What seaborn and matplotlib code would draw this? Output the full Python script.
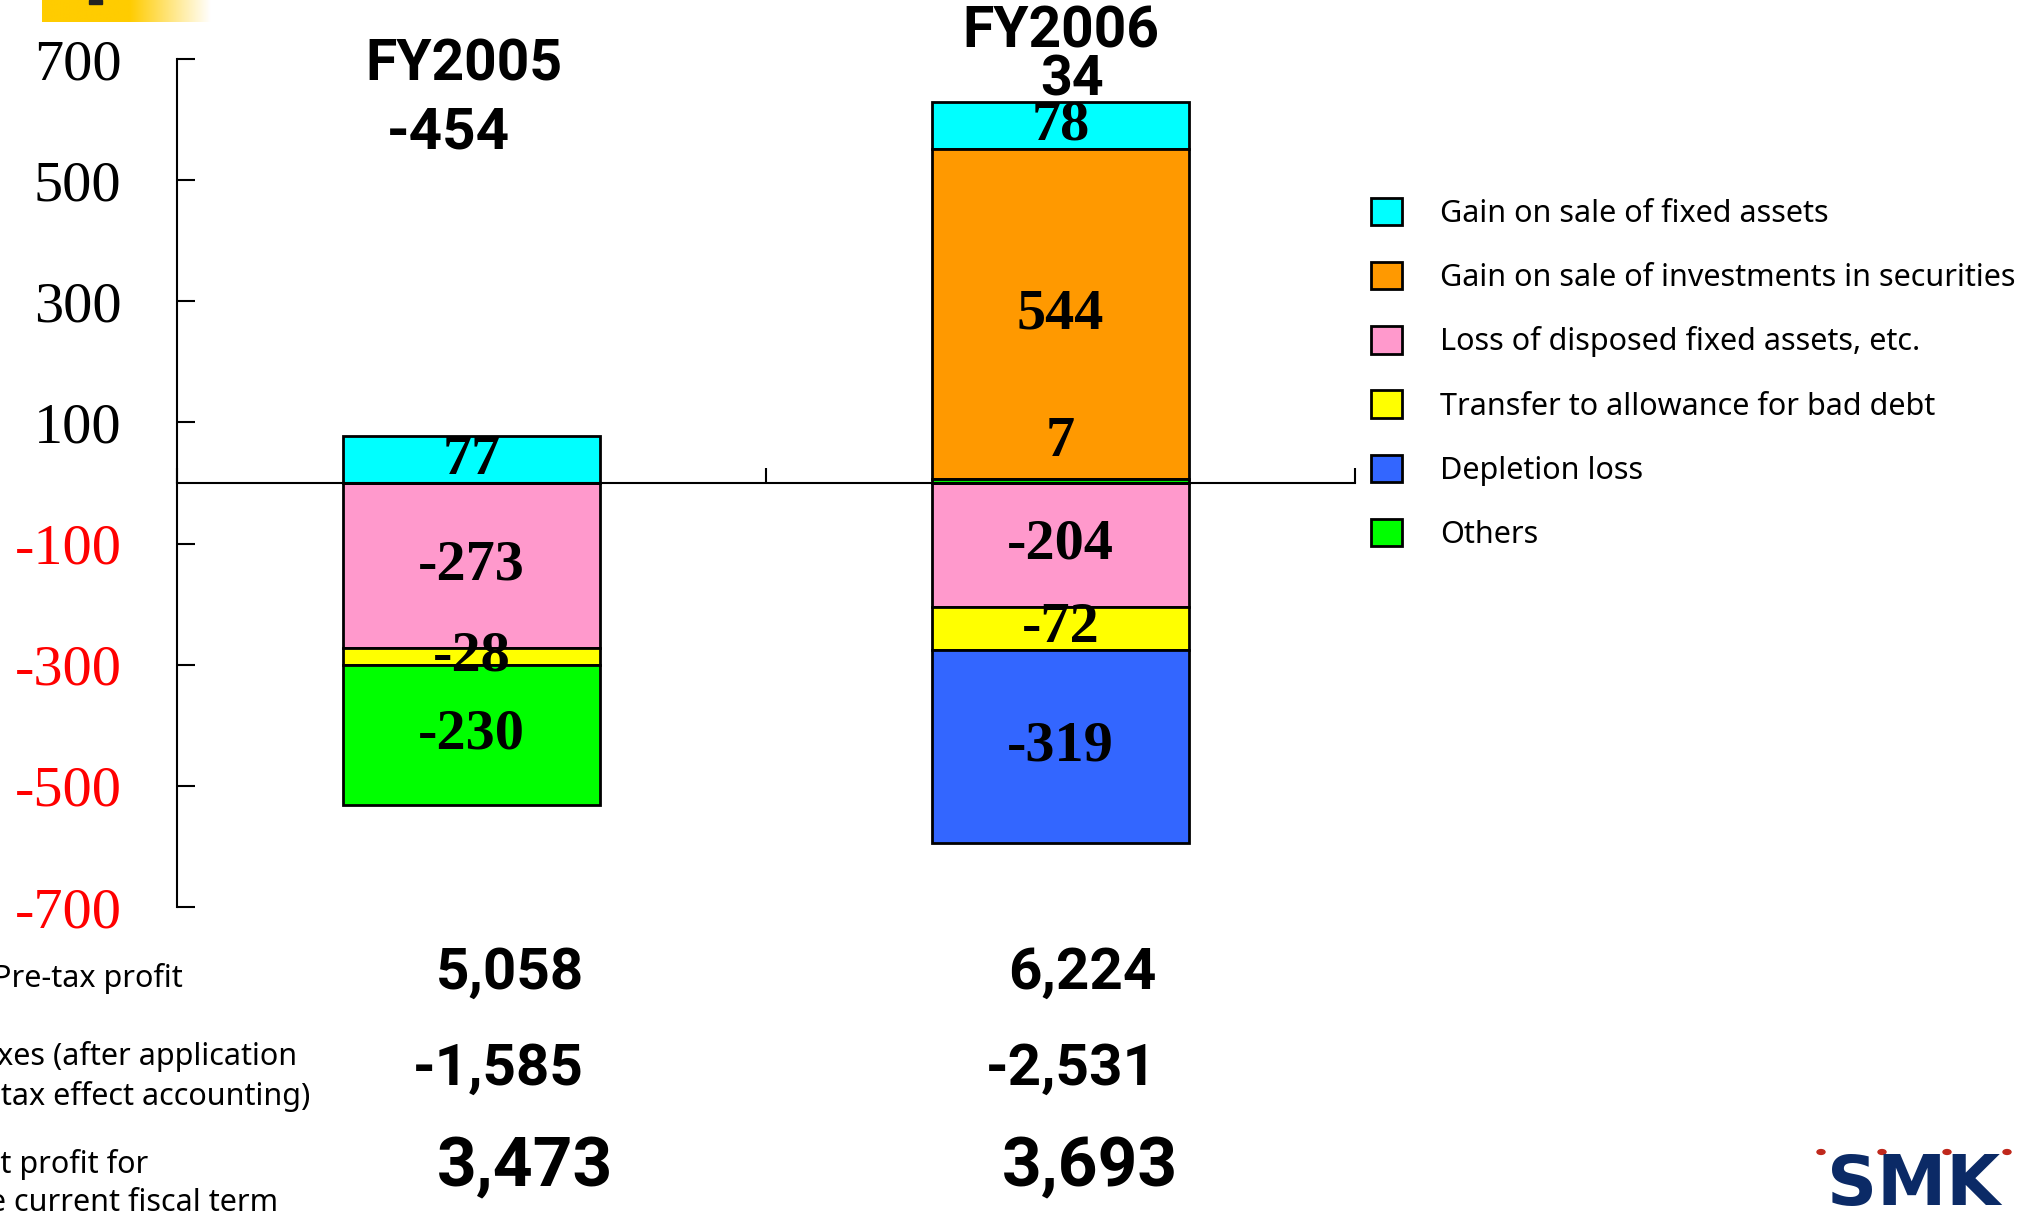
import numpy as np
import pandas as pd
import matplotlib
matplotlib.use("Agg")
import matplotlib.pyplot as plt
import seaborn as sns
from matplotlib.transforms import blended_transform_factory
from matplotlib.patches import Circle, Rectangle

# ---------------- data ----------------
categories = ["FY2005", "FY2006"]
series_names = [
    "Gain on sale of fixed assets",
    "Gain on sale of investments in securities",
    "Loss of disposed fixed assets, etc.",
    "Transfer to allowance for bad debt",
    "Depletion loss",
    "Others",
]
gain_fixed = [77, 78]
gain_securities = [0, 544]
loss_disposed = [-273, -204]
bad_debt = [-28, -72]
depletion = [0, -319]
others = [-230, 7]
totals = ["-454", "34"]
pretax_profit = ["5,058", "6,224"]
taxes = ["-1,585", "-2,531"]
net_profit = ["3,473", "3,693"]
ytick_values = [700, 500, 300, 100, -100, -300, -500, -700]
colors = ["#00FFFF", "#FF9900", "#FF99CC", "#FFFF00", "#3366FF", "#00FF00"]

series_values = [gain_fixed, gain_securities, loss_disposed, bad_debt, depletion, others]

# stacking order outward from zero
pos_order = [5, 1, 0]
neg_order = [2, 3, 4, 5]

bottoms = [[0.0] * len(categories) for _ in series_values]
for j in range(len(categories)):
    cum = 0.0
    for i in pos_order:
        v = series_values[i][j]
        if v > 0:
            bottoms[i][j] = cum
            cum += v
    cum = 0.0
    for i in neg_order:
        v = series_values[i][j]
        if v < 0:
            bottoms[i][j] = cum
            cum += v

# ---------------- style ----------------
sns.set_style("white")
SERIF = ["Liberation Serif", "DejaVu Serif"]
SANS = ["Noto Sans", "DejaVu Sans"]
BOLD = ["Roboto", "DejaVu Sans"]
plt.rcParams["font.family"] = SANS
plt.rcParams["text.color"] = "black"
plt.rcParams["xtick.color"] = "black"
plt.rcParams["ytick.color"] = "black"

W, H = 2017, 1216
fig = plt.figure(figsize=(W / 100, H / 100), dpi=100)
ax = fig.add_axes([177 / W, 1 - 907 / H, (1355 - 177) / W, (907 - 59) / H])

for i, name in enumerate(series_names):
    df = pd.DataFrame({"cat": categories, "val": series_values[i]})
    sns.barplot(data=df, x="cat", y="val", order=categories, bottom=bottoms[i],
                color=colors[i], saturation=1, edgecolor="black", linewidth=2,
                width=0.435, label=name, ax=ax, errorbar=None, zorder=2)
if ax.get_legend() is not None:
    ax.get_legend().remove()

ax.set_xlim(-0.5, 1.5)
ax.set_ylim(-700, 700)
ax.set_xlabel("")
ax.set_ylabel("")
for s in ["top", "right"]:
    ax.spines[s].set_visible(False)
ax.spines["bottom"].set_position(("data", 0))
ax.spines["bottom"].set_zorder(3)
for s in ["left", "bottom"]:
    ax.spines[s].set_linewidth(1.5)
    ax.spines[s].set_color("black")

ax.set_xticks([-0.5, 0.5, 1.5])
ax.set_xticklabels([])
ax.tick_params(axis="x", bottom=True, direction="in", length=11, width=1.5, color="black")

ax.set_yticks(ytick_values)
ax.set_yticklabels([str(v) for v in ytick_values], fontfamily=SERIF, fontsize=42)
for lab, v in zip(ax.get_yticklabels(), ytick_values):
    lab.set_color("black" if v > 0 else "#FF0000")
ax.tick_params(axis="y", left=True, direction="in", length=13, width=1.5, pad=40,
               color="black")

# segment value labels
for i in range(len(series_values)):
    for j in range(len(categories)):
        v = series_values[i][j]
        if v == 0:
            continue
        b = bottoms[i][j]
        y = b + v / 2 if abs(v) >= 15 else b + v + 60
        ax.text(j, y, f"{v}", ha="center", va="center", fontsize=42,
                fontweight="bold", fontfamily=SERIF, color="black", zorder=5)

# category headers and totals
hdr = dict(ha="center", va="center", fontweight="bold", fontfamily=BOLD, clip_on=False,
           color="black")
ax.text(-0.013, 690, categories[0], fontsize=41, **hdr)
ax.text(-0.04, 578, totals[0], fontsize=42, **hdr)
ax.text(1.0, 745, categories[1], fontsize=41, **hdr)
ax.text(1.02, 664, totals[1], fontsize=40, **hdr)

# legend
handles, labels = ax.get_legend_handles_labels()
fig.legend(handles, labels, loc="upper left", bbox_to_anchor=(1371 / W, 1 - 198 / H),
           frameon=False, prop={"family": SANS, "size": 22}, handlelength=1.0,
           handleheight=1.0, handletextpad=1.27, labelspacing=1.08, borderpad=0,
           borderaxespad=0)

# bottom table
tr = blended_transform_factory(ax.transData, fig.transFigure)
row_y = [973, 1069, 1168]
row_vals = [pretax_profit, taxes, net_profit]
row_x = [[0.066, 1.037], [0.046, 1.018], [0.09, 1.05]]
row_size = [42, 42, 50]
for r in range(3):
    for j in range(2):
        ax.text(row_x[r][j], 1 - row_y[r] / H, row_vals[r][j], transform=tr,
                ha="center", va="center", fontsize=row_size[r], fontweight="bold",
                fontfamily=BOLD, color="black", clip_on=False)

left_lines = [
    ("Pre-tax profit", 183, 978),
    ("Taxes (after application", 297, 1057),
    ("of tax effect accounting)", 310, 1096),
    ("Net profit for", 148, 1165),
    ("the current fiscal term", 278, 1203),
]
for txt, xr, yc in left_lines:
    fig.text(xr / W, 1 - yc / H, txt, ha="right", va="center", fontsize=22,
             color="black")

# top-left yellow gradient band
gax = fig.add_axes([42 / W, 1 - 22 / H, 168 / W, 22 / H])
t = np.linspace(0, 1, 300)
alpha = np.clip((1 - t) / 0.48, 0, 1)
alpha = np.where(t < 0.52, 1.0, alpha)
yellow = np.array([1.0, 0.8, 0.0])
img = (yellow[None, :] * alpha[:, None] + (1 - alpha[:, None]))[None, :, :]
gax.imshow(np.repeat(img, 4, axis=0), aspect="auto", extent=[0, 1, 0, 1])
gax.axis("off")
fig.add_artist(Rectangle((89 / W, 1 - 4 / H), 13 / W, 4 / H, transform=fig.transFigure,
                         color="#222222", zorder=10))

# SMK logo
fig.text(1914 / W, 1 - 1186 / H, "SMK", ha="center", va="center", fontsize=50,
         fontweight="bold", family="DejaVu Sans", color="#0B2A66")
for xd in [1821, 1882, 1947, 2007]:
    fig.add_artist(Circle((xd / W, 1 - 1152 / H), 4 / W, transform=fig.transFigure,
                          color="#C0281C"))

fig.savefig("out.png", dpi=100)
